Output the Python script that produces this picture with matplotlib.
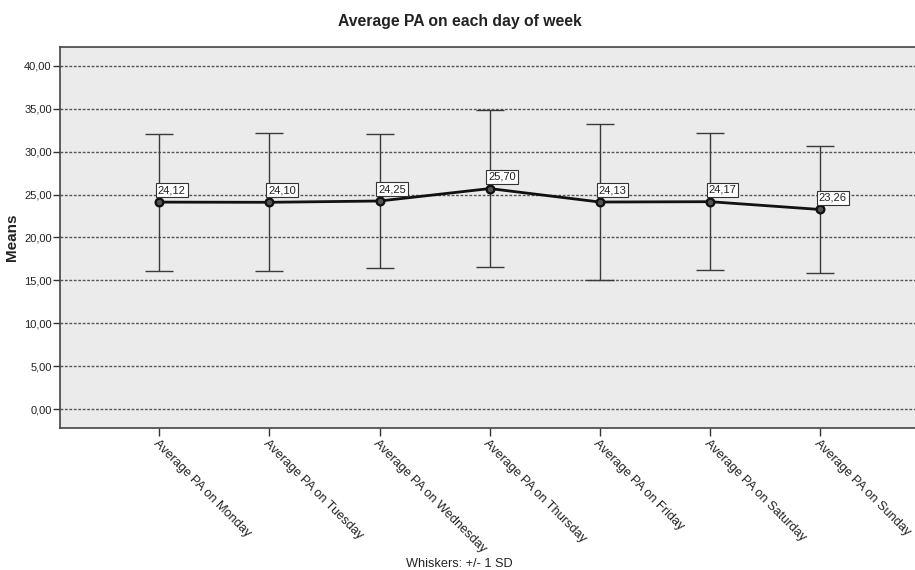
import numpy as np
import matplotlib
matplotlib.use("Agg")
import matplotlib.pyplot as plt
from matplotlib.transforms import ScaledTranslation

plt.rcParams['font.family'] = ['Liberation Sans', 'DejaVu Sans']

days = ["Monday", "Tuesday", "Wednesday", "Thursday", "Friday", "Saturday", "Sunday"]
tick_labels = ["Average PA on " + d for d in days]
means = [24.12, 24.10, 24.25, 25.70, 24.13, 24.17, 23.26]
sds = [7.98, 8.05, 7.78, 9.15, 9.05, 8.00, 7.40]
y_ticks = [0, 5, 10, 15, 20, 25, 30, 35, 40]

fig = plt.figure(figsize=(9.15, 5.70), dpi=100)
ax = fig.add_axes([0.0656, 0.249, 0.9344, 0.6685])
ax.set_facecolor('#ebebeb')

x = np.arange(len(days))

# dotted reference lines at each y tick
for yv in y_ticks:
    ax.axhline(yv, color='#555555', lw=1.0, ls=(0, (2, 1.2)), zorder=1)

ax.errorbar(x, means, yerr=sds, fmt='none', ecolor='#3a3a3a', elinewidth=1.0,
            capsize=10, capthick=1.0, zorder=2)
ax.plot(x, means, color='#111111', lw=2.0, marker='o', markersize=5.5,
        markerfacecolor='#555555', markeredgecolor='#111111', markeredgewidth=1.7,
        zorder=3)

for xi, m in zip(x, means):
    ax.annotate(f"{m:.2f}".replace('.', ','), (xi, m), xytext=(-1, 5),
                textcoords='offset points', ha='left', va='bottom', fontsize=8,
                color='#222222', zorder=4,
                bbox=dict(boxstyle='square,pad=0.18', fc='white', ec='#333333', lw=0.8))

ax.set_xlim(-0.9, 6.86)
ax.set_ylim(-2.22, 42.2)
ax.set_yticks(y_ticks)
ax.set_yticklabels([f"{v:.2f}".replace('.', ',') for v in y_ticks], fontsize=8, color='#222222')
ax.set_xticks(x)
ax.set_xticklabels(tick_labels, rotation=-45, ha='left', va='top',
                   rotation_mode='anchor', fontsize=9.2, color='#222222')
# nudge the slanted labels so they start right under the tick
shift = ScaledTranslation(0.04, 0, fig.dpi_scale_trans)
for lbl in ax.get_xticklabels():
    lbl.set_transform(lbl.get_transform() + shift)
ax.tick_params(axis='y', length=5, width=1, color='#333333', pad=1)
ax.tick_params(axis='x', length=6, width=1, color='#333333', pad=1)

for side in ['left', 'bottom', 'top']:
    ax.spines[side].set_color('#444444')
    ax.spines[side].set_linewidth(1.2)
ax.spines['right'].set_visible(False)

ax.set_ylabel("Means", fontsize=11, fontweight='bold', color='#222222', labelpad=4)
fig.text(0.503, 0.963, "Average PA on each day of week", ha='center', va='center',
         fontsize=11.3, fontweight='bold', color='#222222')
fig.text(0.502, 0.011, "Whiskers: +/- 1 SD", ha='center', va='center',
         fontsize=9.2, color='#222222')

fig.savefig("out.png", dpi=100)
